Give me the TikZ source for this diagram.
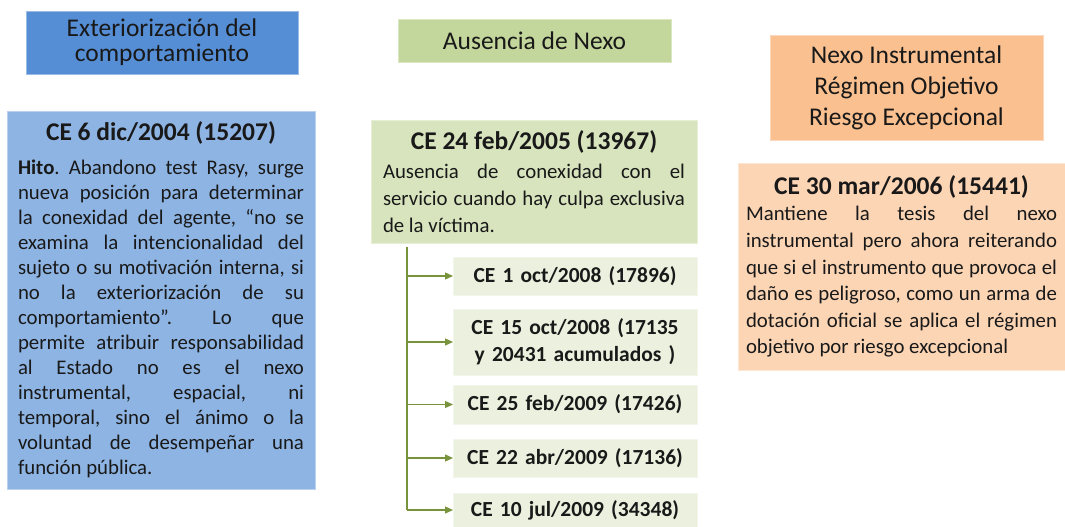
\documentclass[tikz,border=0pt]{standalone}
\usepackage{fontspec}
\setmainfont{Carlito}
\usetikzlibrary{arrows.meta,positioning}

\definecolor{hdrblue}{HTML}{558ED5}
\definecolor{boxblue}{HTML}{8EB4E3}
\definecolor{hdrgreen}{HTML}{C3D69B}
\definecolor{boxgreen}{HTML}{D7E4BD}
\definecolor{listgreen}{HTML}{EBF1DE}
\definecolor{hdrorange}{HTML}{FAC090}
\definecolor{boxorange}{HTML}{FCD5B5}
\definecolor{linkgreen}{HTML}{77933C}

\newcommand{\casetitle}[2]{{\centering\fontsize{25.5}{28}\selectfont\bfseries #1\par}\vspace{#2pt}}
\frenchspacing

\begin{document}
\begin{tikzpicture}
  [x=1pt,y=-1pt,
   every node/.style={inner sep=0pt,outer sep=0pt,anchor=north west,text=black!90},
   hdr/.style={fill=#1,draw=#1!60!white,line width=0.8pt,align=center,
     font=\fontsize{25.5}{25}\selectfont},
   card/.style={fill=#1,draw=#1!60!white,line width=0.8pt,align=justify},
   case/.style={fill=listgreen,draw=listgreen!60!white,line width=0.8pt,align=center,
     text width=244,font=\fontsize{21.5}{27}\selectfont\bfseries},
   link/.style={draw=linkgreen,line width=1.3pt}]
  \useasboundingbox (0,0) rectangle (1065,527);

  % headers
  \node[hdr=hdrblue,minimum width=272,minimum height=63] (hdrext) at (26,11)
    {Exteriorización del\\comportamiento};
  \node[hdr=hdrgreen,minimum width=273,minimum height=43] (hdrnexo) at (398,19)
    {Ausencia de Nexo};
  \node[hdr=hdrorange,minimum width=273,minimum height=105,
    font=\fontsize{25.5}{31}\selectfont] (hdrinst) at (770,35)
    {Nexo Instrumental\\Régimen Objetivo\\Riesgo Excepcional};

  % cards
  \node[card=boxblue,text width=286,inner xsep=11,minimum height=378,
    font=\fontsize{20.8}{25}\selectfont] (ce2004) at (7,111)
    {\casetitle{CE 6 dic/2004 (15207)}{9}
     \textbf{Hito}. Abandono test Rasy, surge\linebreak
     nueva posición para determinar\linebreak
     la conexidad del agente, “no se\linebreak
     examina la intencionalidad del\linebreak
     sujeto o su motivación interna, si\linebreak
     no la exteriorización de su\linebreak
     comportamiento”. Lo que\linebreak
     permite atribuir responsabilidad\linebreak
     al Estado no es el nexo\linebreak
     instrumental, espacial, ni\linebreak
     temporal, sino el ánimo o la\linebreak
     voluntad de desempeñar una\linebreak
     función pública.};
  \node[card=boxgreen,text width=302,inner xsep=12,minimum height=123,
    font=\fontsize{20.8}{27}\selectfont] (ce2005) at (371,120)
    {\casetitle{CE 24 feb/2005 (13967)}{2}
     Ausencia de conexidad con el\linebreak
     servicio cuando hay culpa exclusiva\linebreak
     de la víctima.};
  \node[card=boxorange,text width=311,inner xsep=8,minimum height=207,
    font=\fontsize{20.8}{26.6}\selectfont] (ce2006) at (738,163)
    {\casetitle{CE 30 mar/2006 (15441)}{0}
     Mantiene la tesis del nexo\linebreak
     instrumental pero ahora reiterando\linebreak
     que si el instrumento que provoca el\linebreak
     daño es peligroso, como un arma de\linebreak
     dotación oficial se aplica el régimen\linebreak
     objetivo por riesgo excepcional};

  % cases after 2005
  \node[case,minimum height=38] (c1) at (453,257) {CE 1 oct/2008 (17896)};
  \node[case,minimum height=66] (c2) at (453,309) {CE 15 oct/2008 (17135\\y 20431 acumulados )};
  \node[case,minimum height=39] (c3) at (453,385) {CE 25 feb/2009 (17426)};
  \node[case,minimum height=38] (c4) at (453,439) {CE 22 abr/2009 (17136)};
  \node[case,minimum height=34] (c5) at (453,493) {CE 10 jul/2009 (34348)};

  \coordinate (fork) at (407,247);
  \draw[link] (fork) -- (fork |- c5.west);
  \foreach \c in {c1,c2,c3,c4,c5}
    \draw[link,-{Triangle[length=8pt,width=7pt]}] (fork |- \c.west) -- (\c.west);
\end{tikzpicture}
\end{document}
